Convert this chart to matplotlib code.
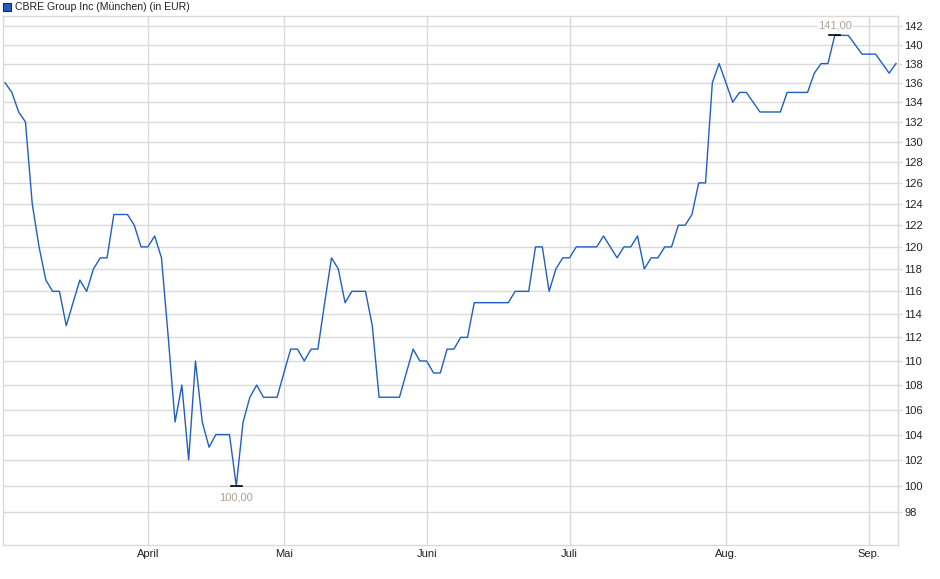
import matplotlib
matplotlib.use("Agg")
import matplotlib.pyplot as plt
import matplotlib.ticker as mticker
from matplotlib.patches import Rectangle

# Kurse je Handelstag (03.03.2025 - 05.09.2025), in EUR
kurse = [136, 135, 133, 132, 124, 120, 117, 116, 116, 113,
         115, 117, 116, 118, 119, 119, 123, 123, 123, 122,
         120, 120, 121, 119, 112, 105, 108, 102, 110, 105,
         103, 104, 104, 104, 100, 105, 107, 108, 107, 107,
         107, 109, 111, 111, 110, 111, 111, 115, 119, 118,
         115, 116, 116, 116, 113, 107, 107, 107, 107, 109,
         111, 110, 110, 109, 109, 111, 111, 112, 112, 115,
         115, 115, 115, 115, 115, 116, 116, 116, 120, 120,
         116, 118, 119, 119, 120, 120, 120, 120, 121, 120,
         119, 120, 120, 121, 118, 119, 119, 120, 120, 122,
         122, 123, 126, 126, 136, 138, 136, 134, 135, 135,
         134, 133, 133, 133, 133, 135, 135, 135, 135, 137,
         138, 138, 141, 141, 141, 140, 139, 139, 139, 138,
         137, 138]

monate = ["April", "Mai", "Juni", "Juli", "Aug.", "Sep."]
monat_start = [21, 41, 62, 83, 106, 127]  # Index des ersten Handelstags
y_ticks = list(range(98, 143, 2))

W, H = 940, 579
fig = plt.figure(figsize=(W / 100, H / 100), dpi=100)
ax = fig.add_axes([3 / W, 1 - 545 / H, (898 - 3) / W, (545 - 16) / H])

tage = list(range(len(kurse)))
ax.plot(tage, kurse, color="#1f5fc4", lw=1.0, zorder=3)

ax.set_yscale("log")
ax.set_ylim(95.6, 143.1)
ax.set_xlim(-0.3, len(kurse) - 0.7)

ax.yaxis.set_major_locator(mticker.FixedLocator(y_ticks))
ax.yaxis.set_major_formatter(mticker.FixedFormatter([str(v) for v in y_ticks]))
ax.yaxis.set_minor_locator(mticker.NullLocator())
ax.yaxis.tick_right()
ax.set_xticks(monat_start)
ax.set_xticklabels(monate)

gitter = "#dadada"
ax.grid(True, color=gitter, lw=1.0, zorder=0)
for s in ax.spines.values():
    s.set_color(gitter)
    s.set_linewidth(1.0)

ax.tick_params(axis="y", length=3, width=1, color=gitter, pad=1.5,
               labelsize=8, labelcolor="#222222")
ax.tick_params(axis="x", length=0, pad=3, labelsize=8, labelcolor="#222222")
for lab in ax.get_xticklabels() + ax.get_yticklabels():
    lab.set_family("Liberation Sans")

# Minimum / Maximum markieren
i_min = kurse.index(min(kurse))
i_max = kurse.index(max(kurse))
for i, dy, va in [(i_min, -4.5, "top"), (i_max, 3.5, "bottom")]:
    ax.plot([i - 0.8, i + 0.8], [kurse[i], kurse[i]], color="black", lw=1.2, zorder=4)
    ax.annotate(f"{kurse[i]:.2f}".replace(".", ","), (i, kurse[i]),
                xytext=(0, dy), textcoords="offset points", ha="center", va=va,
                fontsize=8, color="#b0a28e", family="Liberation Sans",
                bbox=dict(boxstyle="square,pad=0.1", fc="white", ec="none"),
                zorder=5)

# Legende oben links
fig.patches.append(Rectangle((3 / W, 1 - 11 / H), 8 / W, 8 / H,
                             transform=fig.transFigure, fc="#1f5fc4",
                             ec="#1a2a50", lw=0.8))
fig.text(15 / W, 1 - 7 / H, "CBRE Group Inc (München) (in EUR)",
         fontsize=7.6, va="center", ha="left", color="#222222",
         family="Liberation Sans")

fig.savefig("out.png", dpi=100)
